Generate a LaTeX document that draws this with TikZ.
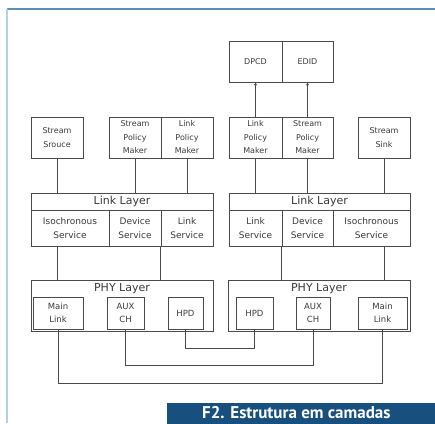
\documentclass[tikz,border=0pt]{standalone}
\usepackage{fontspec}
\setmainfont{DejaVu Sans}
\newfontfamily\titlefont{PT Sans}
\usetikzlibrary{arrows.meta}
\definecolor{edge}{HTML}{4A4A4A}
\definecolor{ink}{HTML}{3A3A3A}
\definecolor{navy}{HTML}{17507F}
\definecolor{topline}{HTML}{5D8FB3}
\definecolor{sideline}{HTML}{B5D0E0}
\begin{document}
\begin{tikzpicture}[x=1pt, y=-1pt,
    box/.style={draw=edge, line width=1pt, inner sep=0pt, align=center, text=ink, font=\fontsize{8}{13.5}\selectfont},
    upper/.style={box, minimum height=41},
    serv/.style={box, minimum height=36, font=\fontsize{9}{13.5}\selectfont},
    layer/.style={box, minimum width=182, minimum height=17, font=\fontsize{11}{12}\selectfont},
    phy/.style={box, minimum width=182, minimum height=51},
    phyin/.style={box, minimum height=32, font=\fontsize{8.5}{13.5}\selectfont},
    ttl/.style={text=ink, inner sep=0pt, font=\fontsize{11}{12}\selectfont},
    wire/.style={draw=edge, line width=1pt},
    up/.style={wire, -{Stealth[length=3pt, width=3pt]}}]
    \clip (0,0) rectangle (435,423);

    \draw[topline, line width=1.2pt] (7,9) -- (435,9);
    \draw[sideline, line width=2pt] (7,9) -- (7,423);

    \node[upper, minimum width=53] (dpcd) at (255.5,61.5) {DPCD};
    \node[upper, minimum width=51] (edid) at (307.5,61.5) {EDID};

    \node[upper, minimum width=52] (ssrc) at (57,137.5) {Stream\\Srouce};
    \node[upper, minimum width=52] (spmL) at (135,137.5) {Stream\\Policy\\Maker};
    \node[upper, minimum width=52] (lpmL) at (187,137.5) {Link\\Policy\\Maker};
    \node[upper, minimum width=53] (lpmR) at (255.5,137.5) {Link\\Policy\\Maker};
    \node[upper, minimum width=51] (spmR) at (307.5,137.5) {Stream\\Policy\\Maker};
    \node[upper, minimum width=52] (ssink) at (384,137.5) {Stream\\Sink};

    \node[layer] (llL) at (122,201.5) {Link Layer};
    \node[layer, minimum width=181] (llR) at (319.5,201.5) {Link Layer};
    \node[serv, minimum width=78] (isoL) at (70,228) {Isochronous\\Service};
    \node[serv, minimum width=52] (devL) at (135,228) {Device\\Service};
    \node[serv, minimum width=52] (lnkL) at (187,228) {Link\\Service};
    \node[serv, minimum width=53] (lnkR) at (255.5,228) {Link\\Service};
    \node[serv, minimum width=51] (devR) at (307.5,228) {Device\\Service};
    \node[serv, minimum width=77] (isoR) at (371.5,228) {Isochronous\\Service};

    \node[phy] (phyL) at (122,305.5) {};
    \node[phy] (phyR) at (319,305.5) {};
    \node[ttl] (phyLt) at (122,288.5) {PHY Layer};
    \node[ttl] (phyRt) at (319,288.5) {PHY Layer};
    \node[phyin, minimum width=50] (mainL) at (58,313) {Main\\Link};
    \node[phyin, minimum width=37] (auxL) at (125.5,313) {AUX\\CH};
    \node[phyin, minimum width=35] (hpdL) at (185.5,313) {HPD};
    \node[phyin, minimum width=37] (hpdR) at (254.5,313) {HPD};
    \node[phyin, minimum width=34] (auxR) at (313,313) {AUX\\CH};
    \node[phyin, minimum width=49] (mainR) at (382.5,313) {Main\\Link};

    \draw[up] (lpmR.north) -- (dpcd.south);
    \draw[up] (spmR.north) -- (edid.south);
    \draw[wire] (ssrc.south) -- (ssrc.south |- llL.north);
    \draw[wire] (spmL.south) -- (spmL.south |- llL.north);
    \draw[wire] (lpmL.south) -- (lpmL.south |- llL.north);
    \draw[wire] (lpmR.south) -- (lpmR.south |- llR.north);
    \draw[wire] (spmR.south) -- (spmR.south |- llR.north);
    \draw[wire] (ssink.south) -- (ssink.south |- llR.north);

    \draw[wire] (isoL.south -| ssrc) -- (phyL.north -| ssrc);
    \draw[wire] (lnkL.south west) -- (lnkL.south west |- phyL.north);
    \draw[wire] (devR.south west) -- (devR.south west |- phyR.north);
    \draw[wire] (isoR.south -| ssink) -- (phyR.north -| ssink);

    \draw[wire] (hpdL.south) -- ++(0,19) -| (hpdR.south);
    \draw[wire] (auxL.south) -- ++(0,36) -| (auxR.south);
    \draw[wire] (mainL.south) -- ++(0,54) -| (mainR.south);

    \node[fill=navy, minimum width=270, minimum height=21, inner sep=0pt, anchor=north west] (bar) at (167,403) {};
    \node[anchor=base west, text=white, inner sep=0pt, font=\titlefont\bfseries\fontsize{17}{17}\selectfont] (cap) at (202,418.5) {F2. Estrutura em camadas};
\end{tikzpicture}
\end{document}
